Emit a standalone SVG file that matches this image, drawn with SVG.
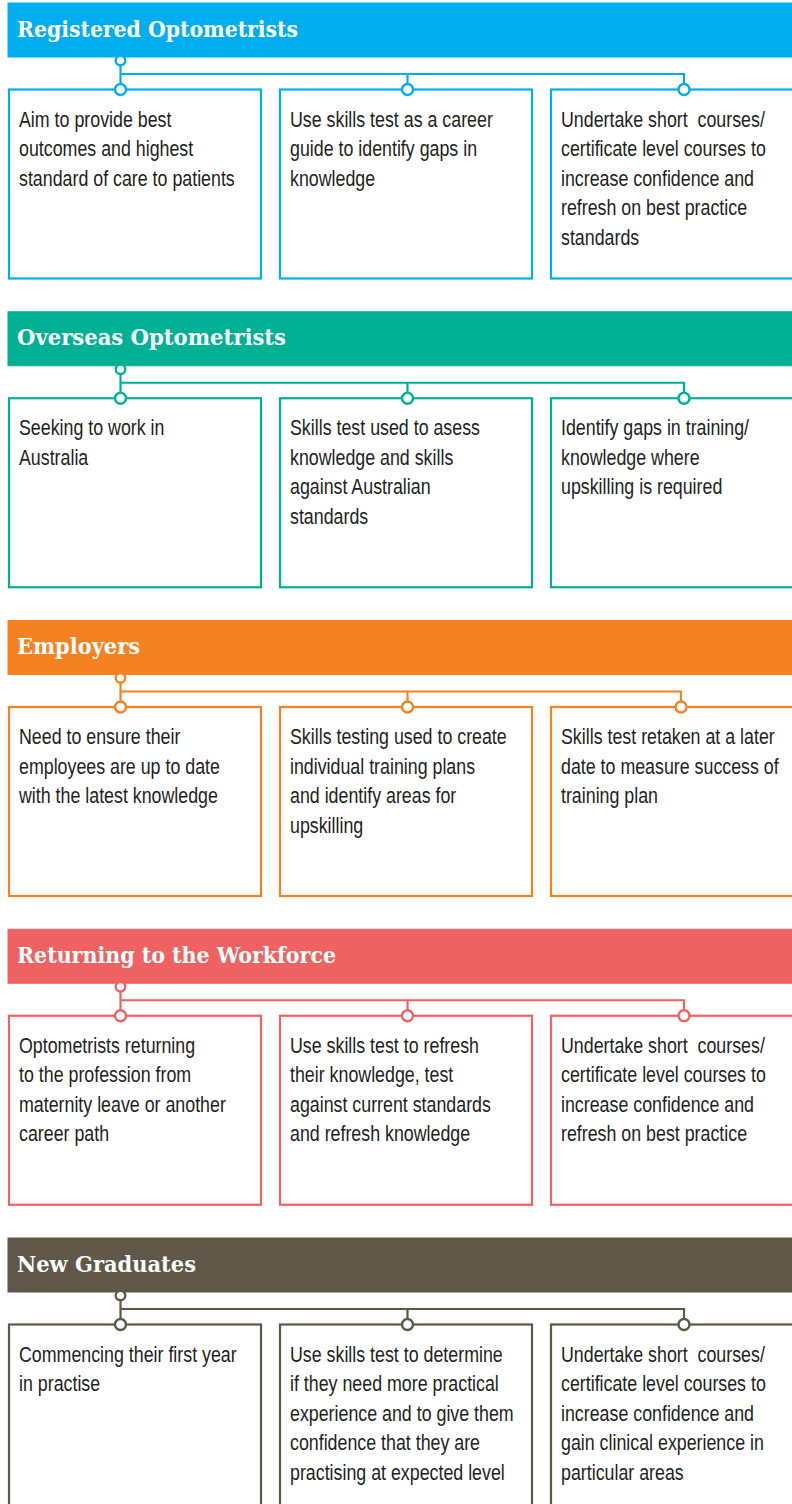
<svg xmlns="http://www.w3.org/2000/svg" width="792" height="1504" viewBox="0 0 792 1504">
<style>
.hdr text{font-family:"DejaVu Serif","Liberation Serif",serif;font-weight:bold;font-size:22px;fill:#ffffff}
.box rect{fill:#ffffff;stroke-width:2.2}
.box text{font-family:"Liberation Sans",Arial,sans-serif;font-size:22px;fill:#231f20;white-space:pre}
.conn line,.conn polyline{fill:none;stroke-width:2.2}
.conn circle{fill:#ffffff;stroke-width:2.4}
.c1{stroke:#00aeef;fill:#00aeef}
.c2{stroke:#00b095;fill:#00b095}
.c3{stroke:#f58220;fill:#f58220}
.c4{stroke:#ef6262;fill:#ef6262}
.c5{stroke:#5f5848;fill:#5f5848}
</style>
<rect width="792" height="1504" fill="#ffffff"/>

<!-- Section 1 -->
<g transform="translate(0,0)">
  <g id="hdr-registered" class="hdr"><rect class="c1" x="8" y="3" width="784" height="54" stroke="none"/><text x="17" y="36.7" textLength="281" lengthAdjust="spacingAndGlyphs">Registered Optometrists</text></g>
  <g id="reg-1" class="box"><rect class="c1" x="9" y="89.5" width="252" height="189" style="fill:#fff"/><text transform="translate(19,126.7) scale(0.81,1)"><tspan x="0" y="0">Aim to provide best</tspan><tspan x="0" y="29.5">outcomes and highest</tspan><tspan x="0" y="59">standard of care to patients</tspan></text></g>
  <g id="reg-2" class="box"><rect class="c1" x="280" y="89.5" width="252" height="189" style="fill:#fff"/><text transform="translate(290,126.7) scale(0.81,1)"><tspan x="0" y="0">Use skills test as a career</tspan><tspan x="0" y="29.5">guide to identify gaps in</tspan><tspan x="0" y="59">knowledge</tspan></text></g>
  <g id="reg-3" class="box"><rect class="c1" x="551" y="89.5" width="260" height="189" style="fill:#fff"/><text transform="translate(561,126.7) scale(0.81,1)"><tspan x="0" y="0">Undertake short  courses/</tspan><tspan x="0" y="29.5">certificate level courses to</tspan><tspan x="0" y="59">increase confidence and</tspan><tspan x="0" y="88.5">refresh on best practice</tspan><tspan x="0" y="118">standards</tspan></text></g>
</g>

<!-- Section 2 -->
<g transform="translate(0,308.75)">
  <g id="hdr-overseas" class="hdr"><rect class="c2" x="8" y="3" width="784" height="54" stroke="none"/><text x="17" y="36.7" textLength="269" lengthAdjust="spacingAndGlyphs">Overseas Optometrists</text></g>
  <g id="ovs-1" class="box"><rect class="c2" x="9" y="89.5" width="252" height="189" style="fill:#fff"/><text transform="translate(19,126.7) scale(0.81,1)"><tspan x="0" y="0">Seeking to work in</tspan><tspan x="0" y="29.5">Australia</tspan></text></g>
  <g id="ovs-2" class="box"><rect class="c2" x="280" y="89.5" width="252" height="189" style="fill:#fff"/><text transform="translate(290,126.7) scale(0.81,1)"><tspan x="0" y="0">Skills test used to asess</tspan><tspan x="0" y="29.5">knowledge and skills</tspan><tspan x="0" y="59">against Australian</tspan><tspan x="0" y="88.5">standards</tspan></text></g>
  <g id="ovs-3" class="box"><rect class="c2" x="551" y="89.5" width="260" height="189" style="fill:#fff"/><text transform="translate(561,126.7) scale(0.81,1)"><tspan x="0" y="0">Identify gaps in training/</tspan><tspan x="0" y="29.5">knowledge where</tspan><tspan x="0" y="59">upskilling is required</tspan></text></g>
</g>

<!-- Section 3 -->
<g transform="translate(0,617.5)">
  <g id="hdr-employers" class="hdr"><rect class="c3" x="8" y="3" width="784" height="54" stroke="none"/><text x="17" y="36.7" textLength="123" lengthAdjust="spacingAndGlyphs">Employers</text></g>
  <g id="emp-1" class="box"><rect class="c3" x="9" y="89.5" width="252" height="189" style="fill:#fff"/><text transform="translate(19,126.7) scale(0.81,1)"><tspan x="0" y="0">Need to ensure their</tspan><tspan x="0" y="29.5">employees are up to date</tspan><tspan x="0" y="59">with the latest knowledge</tspan></text></g>
  <g id="emp-2" class="box"><rect class="c3" x="280" y="89.5" width="252" height="189" style="fill:#fff"/><text transform="translate(290,126.7) scale(0.81,1)"><tspan x="0" y="0">Skills testing used to create</tspan><tspan x="0" y="29.5">individual training plans</tspan><tspan x="0" y="59">and identify areas for</tspan><tspan x="0" y="88.5">upskilling</tspan></text></g>
  <g id="emp-3" class="box"><rect class="c3" x="551" y="89.5" width="260" height="189" style="fill:#fff"/><text transform="translate(561,126.7) scale(0.81,1)"><tspan x="0" y="0">Skills test retaken at a later</tspan><tspan x="0" y="29.5">date to measure success of</tspan><tspan x="0" y="59">training plan</tspan></text></g>
</g>

<!-- Section 4 -->
<g transform="translate(0,926.25)">
  <g id="hdr-returning" class="hdr"><rect class="c4" x="8" y="3" width="784" height="54" stroke="none"/><text x="17" y="36.7" textLength="319" lengthAdjust="spacingAndGlyphs">Returning to the Workforce</text></g>
  <g id="ret-1" class="box"><rect class="c4" x="9" y="89.5" width="252" height="189" style="fill:#fff"/><text transform="translate(19,126.7) scale(0.81,1)"><tspan x="0" y="0">Optometrists returning</tspan><tspan x="0" y="29.5">to the profession from</tspan><tspan x="0" y="59">maternity leave or another</tspan><tspan x="0" y="88.5">career path</tspan></text></g>
  <g id="ret-2" class="box"><rect class="c4" x="280" y="89.5" width="252" height="189" style="fill:#fff"/><text transform="translate(290,126.7) scale(0.81,1)"><tspan x="0" y="0">Use skills test to refresh</tspan><tspan x="0" y="29.5">their knowledge, test</tspan><tspan x="0" y="59">against current standards</tspan><tspan x="0" y="88.5">and refresh knowledge</tspan></text></g>
  <g id="ret-3" class="box"><rect class="c4" x="551" y="89.5" width="260" height="189" style="fill:#fff"/><text transform="translate(561,126.7) scale(0.81,1)"><tspan x="0" y="0">Undertake short  courses/</tspan><tspan x="0" y="29.5">certificate level courses to</tspan><tspan x="0" y="59">increase confidence and</tspan><tspan x="0" y="88.5">refresh on best practice</tspan></text></g>
</g>

<!-- Section 5 -->
<g transform="translate(0,1235)">
  <g id="hdr-graduates" class="hdr"><rect class="c5" x="8" y="3" width="784" height="54" stroke="none"/><text x="17" y="36.7" textLength="179" lengthAdjust="spacingAndGlyphs">New Graduates</text></g>
  <g id="grad-1" class="box"><rect class="c5" x="9" y="89.5" width="252" height="189" style="fill:#fff"/><text transform="translate(19,126.7) scale(0.81,1)"><tspan x="0" y="0">Commencing their first year</tspan><tspan x="0" y="29.5">in practise</tspan></text></g>
  <g id="grad-2" class="box"><rect class="c5" x="280" y="89.5" width="252" height="189" style="fill:#fff"/><text transform="translate(290,126.7) scale(0.81,1)"><tspan x="0" y="0">Use skills test to determine</tspan><tspan x="0" y="29.5">if they need more practical</tspan><tspan x="0" y="59">experience and to give them</tspan><tspan x="0" y="88.5">confidence that they are</tspan><tspan x="0" y="118">practising at expected level</tspan></text></g>
  <g id="grad-3" class="box"><rect class="c5" x="551" y="89.5" width="260" height="189" style="fill:#fff"/><text transform="translate(561,126.7) scale(0.81,1)"><tspan x="0" y="0">Undertake short  courses/</tspan><tspan x="0" y="29.5">certificate level courses to</tspan><tspan x="0" y="59">increase confidence and</tspan><tspan x="0" y="88.5">gain clinical experience in</tspan><tspan x="0" y="118">particular areas</tspan></text></g>
</g>

<!-- Connectors (drawn on top so the circles sit over the box edges) -->
<g id="connectors" class="conn">
  <g transform="translate(0,0)" class="c1">
    <line x1="120.5" y1="61" x2="120.5" y2="89"/>
    <polyline points="120.5,74 684,74 684,89"/>
    <line x1="407.5" y1="74" x2="407.5" y2="89"/>
    <circle cx="120.5" cy="60.5" r="4.8"/><circle cx="120.5" cy="89.5" r="5.5"/><circle cx="407.5" cy="89.5" r="5.5"/><circle cx="684" cy="89.5" r="5.5"/>
  </g>
  <g transform="translate(0,308.75)" class="c2">
    <line x1="120.5" y1="61" x2="120.5" y2="89"/>
    <polyline points="120.5,74 684,74 684,89"/>
    <line x1="407.5" y1="74" x2="407.5" y2="89"/>
    <circle cx="120.5" cy="60.5" r="4.8"/><circle cx="120.5" cy="89.5" r="5.5"/><circle cx="407.5" cy="89.5" r="5.5"/><circle cx="684" cy="89.5" r="5.5"/>
  </g>
  <g transform="translate(0,617.5)" class="c3">
    <line x1="120.5" y1="61" x2="120.5" y2="89"/>
    <polyline points="120.5,74 681,74 681,89"/>
    <line x1="407.5" y1="74" x2="407.5" y2="89"/>
    <circle cx="120.5" cy="60.5" r="4.8"/><circle cx="120.5" cy="89.5" r="5.5"/><circle cx="407.5" cy="89.5" r="5.5"/><circle cx="681" cy="89.5" r="5.5"/>
  </g>
  <g transform="translate(0,926.25)" class="c4">
    <line x1="120.5" y1="61" x2="120.5" y2="89"/>
    <polyline points="120.5,74 684,74 684,89"/>
    <line x1="407.5" y1="74" x2="407.5" y2="89"/>
    <circle cx="120.5" cy="60.5" r="4.8"/><circle cx="120.5" cy="89.5" r="5.5"/><circle cx="407.5" cy="89.5" r="5.5"/><circle cx="684" cy="89.5" r="5.5"/>
  </g>
  <g transform="translate(0,1235)" class="c5">
    <line x1="120.5" y1="61" x2="120.5" y2="89"/>
    <polyline points="120.5,74 684,74 684,89"/>
    <line x1="407.5" y1="74" x2="407.5" y2="89"/>
    <circle cx="120.5" cy="60.5" r="4.8"/><circle cx="120.5" cy="89.5" r="5.5"/><circle cx="407.5" cy="89.5" r="5.5"/><circle cx="684" cy="89.5" r="5.5"/>
  </g>
</g>
</svg>
